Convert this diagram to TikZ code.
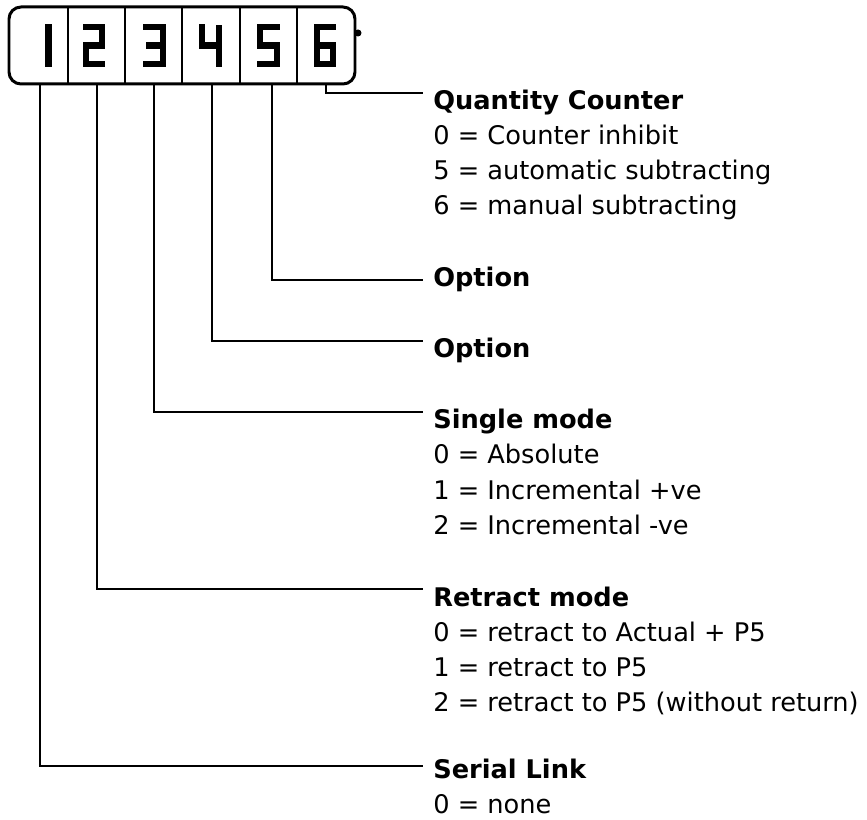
\documentclass[tikz,border=0pt]{standalone}
\usepackage{fontspec}
\setmainfont{DejaVu Sans}
\usepackage{tikz}
\usetikzlibrary{positioning}

\tikzset{
  panel/.style={line width=1.7pt, rounded corners=6.8pt},
  divider/.style={line width=1.1pt},
  seg/.style={line width=3.6pt, line cap=rect, line join=miter},
  leader/.style={line width=0.85pt},
  legend/.style={anchor=north west, align=left, inner xsep=5.67pt, inner ysep=0pt,
    font=\fontsize{14.6pt}{20pt}\selectfont}
}

\begin{document}
\begin{tikzpicture}[x=0.02cm, y=-0.02cm]
  \useasboundingbox (0,0) rectangle (867,820);

  % Display panel
  \fill (358,33) circle (3.5);
  \draw[panel, fill=white] (9,7) rectangle (355,84);
  \foreach \x in {68,125,182,240,297}
    \draw[divider] (\x,7) -- (\x,84);

  % Digit 1
  \draw[seg] (48.5,27.2) -- (48.5,63.8);
  % Digit 2
  \begin{scope}[shift={(94,0)}]
    \draw[seg] (-8.3,27.2) -- (8.3,27.2) -- (8.3,45.5) -- (-8.3,45.5) -- (-8.3,63.8) -- (8.3,63.8);
  \end{scope}
  % Digit 3
  \begin{scope}[shift={(154.5,0)}]
    \draw[seg] (-8.3,27.2) -- (8.3,27.2) -- (8.3,63.8) -- (-8.3,63.8);
    \draw[seg] (-5,45.5) -- (8.3,45.5);
  \end{scope}
  % Digit 4
  \begin{scope}[shift={(210.5,0)}]
    \draw[seg] (-8.3,27.2) -- (-8.3,45.5) -- (8.3,45.5);
    \draw[seg] (8.3,28.5) -- (8.3,63.8);
  \end{scope}
  % Digit 5
  \begin{scope}[shift={(268.5,0)}]
    \draw[seg] (8.3,27.2) -- (-8.3,27.2) -- (-8.3,45.5) -- (8.3,45.5) -- (8.3,63.8) -- (-8.3,63.8);
  \end{scope}
  % Digit 6
  \begin{scope}[shift={(325,0)}]
    \draw[seg] (8.3,27.2) -- (-8.3,27.2) -- (-8.3,63.8) -- (8.3,63.8) -- (8.3,45.5) -- (-8.3,45.5);
  \end{scope}

  % Taps under the digits
  \coordinate (c1) at (40,84);
  \coordinate (c2) at (97,84);
  \coordinate (c3) at (154,84);
  \coordinate (c4) at (212,84);
  \coordinate (c5) at (272,84);
  \coordinate (c6) at (326,84);

  % Legend
  \node[legend] (qty) at (423,89.4) {\textbf{Quantity Counter}\\
    0 = Counter inhibit\\
    5 = automatic subtracting\\
    6 = manual subtracting};
  \node[legend] (opt5) at (423,266.9) {\textbf{Option}};
  \node[legend] (opt4) at (423,337.9) {\textbf{Option}};
  \node[legend] (single) at (423,408.9) {\textbf{Single mode}\\
    0 = Absolute\\
    1 = Incremental +ve\\
    2 = Incremental -ve};
  \node[legend] (retract) at (423,586.4) {\textbf{Retract mode}\\
    0 = retract to Actual + P5\\
    1 = retract to P5\\
    2 = retract to P5 (without return)};
  \node[legend] (serial) at (423,759) {\textbf{Serial Link}\\
    0 = none};

  % Leaders
  \draw[leader] (c6) |- ([yshift=-2pt]qty.north west);
  \draw[leader] (c5) |- ([yshift=-7.4pt]opt5.north west);
  \draw[leader] (c4) |- ([yshift=-1.7pt]opt4.north west);
  \draw[leader] (c3) |- ([yshift=-1.7pt]single.north west);
  \draw[leader] (c2) |- ([yshift=-1.5pt]retract.north west);
  \draw[leader] (c1) |- ([yshift=-4pt]serial.north west);
\end{tikzpicture}
\end{document}
